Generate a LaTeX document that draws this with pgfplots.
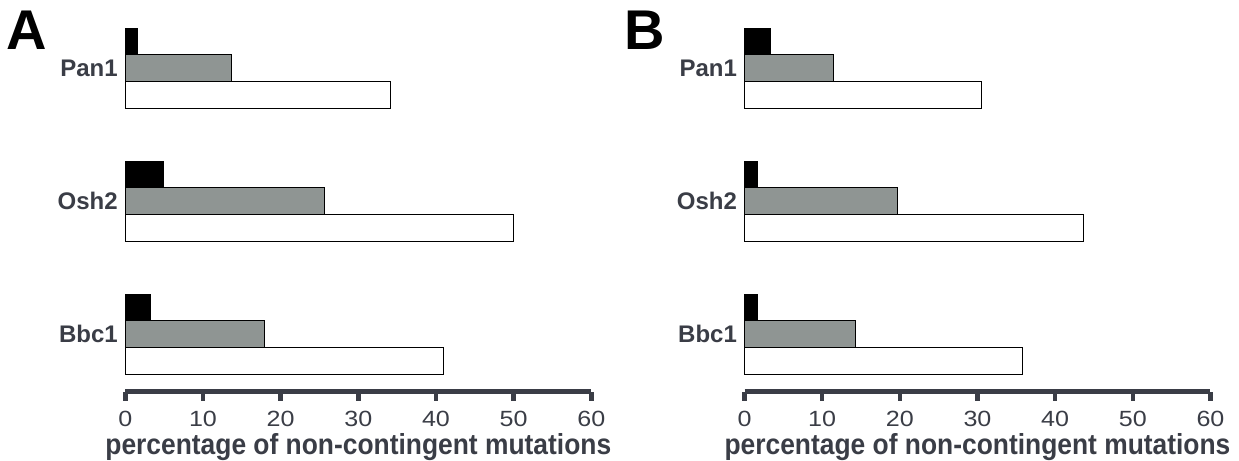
\documentclass[border=0pt]{standalone}
\usepackage{fontspec}
\setmainfont{Liberation Sans}
\newfontfamily\stretchfont[FakeStretch=0.91]{Liberation Sans}
\newfontfamily\tickfont[FakeStretch=1.14]{Liberation Sans}
\usepackage{pgfplots}
\pgfplotsset{compat=1.18}
\definecolor{ink}{RGB}{58,61,70}
\definecolor{barg}{RGB}{143,149,147}
\pgfplotsset{panel/.style={
  scale only axis, width=233pt, height=181.7pt,
  xmin=0, xmax=60, ymin=0.5684, ymax=3.3008,
  axis x line*=bottom, axis y line*=left,
  x axis line style={line width=2.3pt, draw=ink, -},
  y axis line style={draw=none},
  xtick={0,10,...,60}, ytick={1,2,3}, yticklabels={Bbc1,Osh2,Pan1},
  tick align=outside, major tick length=4.5pt,
  xtick style={line width=2.3pt, draw=ink},
  ytick style={draw=none},
  /pgf/number format/assume math mode=true,
  xticklabel style={font=\tickfont\fontsize{11}{11}\selectfont, text=ink, anchor=base, inner sep=0pt, yshift=-12.8pt},
  yticklabel style={font=\bfseries\fontsize{12}{12}\selectfont, text=ink, inner sep=0pt, xshift=0.9pt},
  xlabel={percentage of non-contingent mutations},
  xlabel style={font=\stretchfont\bfseries\fontsize{14.5}{14.5}\selectfont, text=ink, at={(axis description cs:0.5,0)}, anchor=base, inner sep=0pt, yshift=-31.5pt},
  every axis plot/.append style={xbar, bar width=0.2008, line width=0.5pt, draw=black},
  clip=false,
}}
\begin{document}
\begin{tikzpicture}
\useasboundingbox (-62.65pt,-34.65pt) rectangle (556.85pt,195.85pt);
\begin{axis}[panel, at={(0pt,0pt)}, anchor=south west]
\addplot[fill=black, bar shift=0.2008] coordinates {(1.6,3) (4.9,2) (3.2,1)};
\addplot[fill=barg, bar shift=0] coordinates {(13.7,3) (25.6,2) (17.9,1)};
\addplot[fill=white, bar shift=-0.2008] coordinates {(34.2,3) (50.0,2) (41.0,1)};
\end{axis}
\begin{axis}[panel, at={(309.6pt,0pt)}, anchor=south west]
\addplot[fill=black, bar shift=0.2008] coordinates {(3.3,3) (1.7,2) (1.7,1)};
\addplot[fill=barg, bar shift=0] coordinates {(11.5,3) (19.7,2) (14.35,1)};
\addplot[fill=white, bar shift=-0.2008] coordinates {(30.5,3) (43.6,2) (35.8,1)};
\end{axis}
\node[anchor=base west, inner sep=0pt, font=\bfseries\fontsize{28}{28}\selectfont] at (-59.65pt,170.85pt) {A};
\node[anchor=base west, inner sep=0pt, font=\bfseries\fontsize{28}{28}\selectfont] at (249.35pt,170.85pt) {B};
\end{tikzpicture}
\end{document}
